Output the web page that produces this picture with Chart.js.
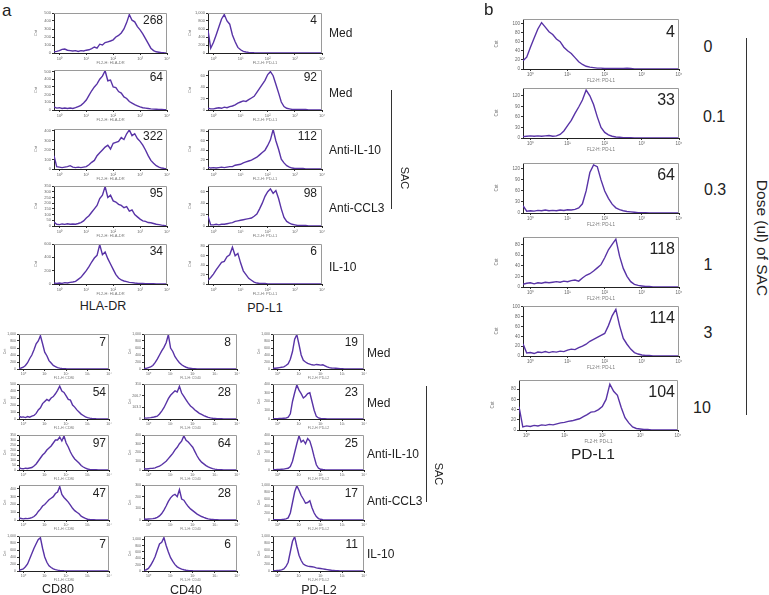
<!DOCTYPE html>
<html>
<head>
<meta charset="utf-8">
<script src="https://cdn.jsdelivr.net/npm/chart.js@4.4.1/dist/chart.umd.min.js"></script>
<style>
  html, body { margin: 0; padding: 0; background: #fff; }
  #fig { position: relative; width: 769px; height: 595px; overflow: hidden;
         font-family: "Liberation Sans", Arial, sans-serif; color: #222; }
  #fig canvas { position: absolute; }
  .t { position: absolute; white-space: nowrap; line-height: 1; }
  .vl { position: absolute; width: 1px; background: #333; }
</style>
</head>
<body>
<div id="fig"></div>
<script>
// channel positions in decades (log10 of fluorescence)
const channels = [-0.2, -0.1, 0, 0.1, 0.2, 0.3, 0.4, 0.5, 0.6, 0.7, 0.8, 0.9, 1, 1.1, 1.2, 1.3, 1.4, 1.5, 1.6, 1.7,
  1.8, 1.9, 2, 2.1, 2.2, 2.3, 2.4, 2.5, 2.6, 2.7, 2.8, 2.9, 3, 3.1, 3.2, 3.3, 3.4, 3.5, 3.6, 3.7, 3.8, 3.9, 4];
const decades = [0, 1, 2, 3, 4];
const decadeLabels = ['10⁰', '10¹', '10²', '10³', '10⁴'];

// panel a, top: conditions
const conditionsTop = ['Med', 'Med', 'Anti-IL-10', 'Anti-CCL3', 'IL-10'];
const hlaMfi = ['268', '64', '322', '95', '34'];
const pdl1Mfi = ['4', '92', '112', '98', '6'];

// HLA-DR histograms (counts)
const hla1 = [15,20,30,45,50,35,30,25,30,20, 30,25,35,40,55,75,60,110,100,130, 140,150,165,200,220,250,300,380,480,410, 390,330,290,240,180,120,60,30,15,10, 5,3,2];
const hla2 = [40,25,30,20,25,20,25,20,30,45, 60,90,130,190,250,300,340,400,440,510, 380,390,300,290,240,220,170,150,110,90, 70,55,40,30,25,20,15,12,10,8, 6,4,3];
const hla3 = [140,25,20,15,20,25,35,20,15,20, 15,20,25,45,70,90,140,170,200,230, 250,210,270,280,290,330,310,370,410,350, 370,320,290,250,200,140,90,60,35,20, 10,6,4];
const hla4 = [35,15,12,18,14,20,15,18,15,22, 30,45,70,90,120,150,180,240,270,345, 250,270,220,210,190,180,160,170,130,140, 100,80,60,45,40,30,28,22,15,12, 8,5,3];
const hla5 = [15,10,15,10,20,15,25,30,40,70, 100,150,200,260,330,390,430,590,440,480, 380,300,220,140,90,60,45,35,25,20, 15,12,10,8,6,5,4,3,2,2, 1,1,1];
const hlaMax = [500, 520, 420, 350, 600];
const hlaStep = [100, 100, 100, 50, 200];

// PD-L1 histograms, panel a (counts)
const pd1 = [570,120,260,450,650,850,960,800,720,450, 280,140,80,40,25,15,10,5,3,2, 2,1,1,1,1,0,0,0,0,0, 0,0,0,0,0,0,0,0,0,0, 0,0,0];
const pd2 = [3,2,2,3,4,3,5,4,6,7, 9,12,14,16,15,18,21,24,31,38, 45,52,62,67,60,45,30,14,6,3, 2,1,1,1,1,1,1,0,0,0, 0,0,0];
const pd3 = [4,2,3,2,3,4,3,4,5,5, 8,9,10,13,15,17,19,22,25,30, 35,40,50,62,84,60,42,21,13,7, 4,2,1,1,1,1,0,0,0,0, 0,0,0];
const pd4 = [17,2,2,3,2,3,3,4,5,6, 8,9,10,11,12,13,14,17,21,30, 40,52,60,65,57,62,48,30,15,8, 5,3,2,1,1,1,1,0,0,0, 0,0,0];
const pd5 = [8,14,21,30,38,46,48,58,62,78, 60,65,45,28,20,12,8,4,2,1, 1,1,0,0,0,0,0,0,0,0, 0,0,0,0,0,0,0,0,0,0, 0,0,0];
const pdMax = [1000, 70, 85, 70, 85];
const pdStep = [200, 20, 20, 20, 20];

// panel a, bottom
const cd80Mfi = ['7', '54', '97', '47', '7'];
const cd40Mfi = ['8', '28', '64', '28', '6'];
const pdl2Mfi = ['19', '23', '25', '17', '11'];

const c80_1 = [20,30,50,100,180,300,400,550,720,800, 950,720,480,380,240,170,100,70,40,25, 15,10,6,4,2,1,1,0,0,0, 0,0,0,0,0,0,0,0,0,0, 0,0,0];
const c80_2 = [40,25,30,20,35,25,40,50,80,130, 160,220,250,280,260,300,320,360,410,470, 400,380,330,280,270,200,170,130,100,70, 50,30,20,12,8,5,3,2,2,1, 1,1,1];
const c80_3 = [20,15,12,18,15,20,25,40,60,90, 120,150,170,200,220,240,270,300,300,330, 290,340,270,230,180,140,110,90,70,45, 30,18,10,6,4,3,2,1,1,1, 1,1,1];
const c80_4 = [25,20,15,20,18,22,30,45,70,110, 140,180,200,230,260,280,300,340,360,430, 330,290,260,230,190,150,120,100,80,50, 35,20,10,6,4,3,2,1,1,1, 1,1,1];
const c80_5 = [20,40,60,120,200,350,500,650,780,900, 950,650,400,250,150,100,60,40,25,15, 10,6,4,2,1,1,0,0,0,0, 0,0,0,0,0,0,0,0,0,0, 0,0,0];
const c80Max = [1000, 500, 350, 450, 1000];
const c80Step = [200, 100, 50, 100, 200];

const c40_1 = [10,20,40,60,100,180,280,400,520,620, 750,980,600,500,350,260,180,120,80,50, 30,20,12,8,5,3,2,1,0,0, 0,0,0,0,0,0,0,0,0,0, 0,0,0];
const c40_2 = [10,8,10,12,15,20,25,45,70,100, 140,180,210,230,250,240,290,230,200,170, 140,115,100,80,65,50,40,30,22,15, 10,7,5,3,2,2,1,1,1,1, 1,1,1];
const c40_3 = [15,12,15,18,20,25,35,45,60,80, 100,130,160,190,230,260,300,330,390,340, 320,290,260,210,160,120,90,70,50,35, 25,15,10,6,4,3,2,1,1,1, 1,1,1];
const c40_4 = [8,6,8,10,12,15,22,35,55,85, 120,160,190,210,220,200,260,180,170,140, 115,95,80,65,50,40,30,22,15,10, 7,5,3,2,1,1,1,1,1,1, 1,1,1];
const c40_5 = [20,40,80,180,300,450,650,850,900,1050, 800,600,420,300,200,130,90,60,40,25, 15,10,6,4,3,2,1,0,0,0, 0,0,0,0,0,0,0,0,0,0, 0,0,0];
const c40Max = [1000, 310, 400, 300, 1100];
const c40Step = [200, 100, 100, 100, 200];

const l2_1 = [20,20,30,40,50,60,100,150,280,500, 850,980,700,400,250,200,160,140,120,110, 130,120,110,120,90,60,40,30,25,20, 15,10,8,5,3,2,1,1,1,1, 1,1,1];
const l2_2 = [4,3,4,5,6,8,10,20,60,200, 300,390,330,290,240,260,290,300,200,100, 30,12,6,4,3,2,2,1,1,1, 1,1,1,1,0,0,0,0,0,0, 0,0,0];
const l2_3 = [5,4,5,6,8,10,15,20,40,100, 200,300,390,320,340,300,360,330,250,150, 60,20,8,5,3,2,2,1,1,1, 1,0,0,0,0,0,0,0,0,0, 0,0,0];
const l2_4 = [10,8,10,12,15,20,30,60,200,500, 800,980,850,700,600,480,500,550,350,200, 100,40,20,10,5,3,2,1,1,1, 1,0,0,0,0,0,0,0,0,0, 0,0,0];
const l2_5 = [10,10,15,20,30,60,130,250,550,850, 980,700,450,300,200,160,140,130,120,110, 90,80,70,60,50,40,30,20,15,10, 8,5,3,2,1,1,1,1,1,1, 1,1,1];
const l2Max = [1000, 400, 400, 1000, 1000];
const l2Step = [200, 100, 100, 200, 200];

// panel b: PD-L1 vs dose of SAC
const doses = ['0', '0.1', '0.3', '1', '3', '10'];
const doseMfi = ['4', '33', '64', '118', '114', '104'];
const b1 = [18,26,48,68,88,102,92,82,76,66, 60,48,40,34,25,16,10,6,4,3, 2,2,1,1,1,1,1,1,2,1, 0,0,0,0,0,0,0,0,0,0, 0,0,0];
const b2 = [4,5,6,5,6,5,6,7,5,6, 10,20,35,50,70,88,108,136,120,95, 60,30,16,9,5,3,2,1,1,1, 0,0,0,0,0,0,0,0,0,0, 0,0,0];
const b3 = [20,5,6,5,7,6,8,6,7,6, 8,7,9,8,10,14,25,60,110,131, 126,90,60,40,24,14,9,6,4,3, 2,1,1,1,0,0,0,0,0,0, 0,0,0];
const b4 = [5,7,8,6,8,7,9,8,9,10, 9,11,10,12,13,11,17,22,25,30, 36,42,55,70,80,90,58,35,20,10, 5,3,2,1,1,0,0,0,0,0, 0,0,0];
const b5 = [25,6,7,5,8,7,9,7,9,8, 10,9,12,14,13,17,20,24,30,34, 38,42,46,62,82,95,62,36,24,14, 7,4,2,1,1,0,0,0,0,0, 0,0,0];
const b6 = [46,6,8,7,9,8,10,9,11,10, 12,14,15,17,18,20,22,26,30,35, 36,40,46,60,90,76,68,44,24,14, 6,3,2,1,1,0,0,0,0,0, 0,0,0];
const bMax = [110, 142, 136, 94, 102, 98];
const bStep = [20, 30, 30, 20, 20, 20];

const fig = document.getElementById('fig');
const FONT = 'Liberation Sans, Arial, sans-serif';
const LINE = '#5833a6';

function label(text, x, y, size, align, rot) {
  const d = document.createElement('div');
  d.className = 't';
  d.textContent = text;
  d.style.left = x + 'px';
  d.style.top = y + 'px';
  d.style.fontSize = size + 'px';
  const tx = align === 'r' ? '-100%' : align === 'l' ? '0' : '-50%';
  d.style.transform = 'translate(' + tx + ',-50%)' + (rot ? ' rotate(' + rot + 'deg)' : '');
  fig.appendChild(d);
}

function vline(x, y0, y1) {
  const d = document.createElement('div');
  d.className = 'vl';
  d.style.left = x + 'px';
  d.style.top = y0 + 'px';
  d.style.height = (y1 - y0) + 'px';
  fig.appendChild(d);
}

// light frame on top and right like the cytometer plots
const frame = {
  id: 'frame',
  afterDraw(c) {
    const a = c.chartArea, ctx = c.ctx;
    ctx.save();
    ctx.strokeStyle = '#9a9a9a';
    ctx.lineWidth = 1;
    ctx.beginPath();
    ctx.moveTo(a.left, a.top + 0.5);
    ctx.lineTo(a.right - 0.5, a.top + 0.5);
    ctx.lineTo(a.right - 0.5, a.bottom);
    ctx.stroke();
    ctx.restore();
  }
};

function hist(values, max, step, box, title, s) {
  const [bx, by, bw, bh] = box;
  const padT = 3, padR = 5;
  const cv = document.createElement('canvas');
  cv.width = bw + s.padL + padR;
  cv.height = bh + padT + s.padB;
  cv.style.left = (bx - s.padL) + 'px';
  cv.style.top = (by - padT) + 'px';
  fig.appendChild(cv);
  const f = { size: s.font, family: FONT };
  new Chart(cv, {
    type: 'line',
    data: {
      datasets: [{
        data: channels.map((x, i) => ({ x: x, y: values[i] })),
        borderColor: LINE,
        borderWidth: 1.4,
        pointRadius: 0,
        tension: 0
      }]
    },
    options: {
      responsive: false,
      animation: false,
      devicePixelRatio: 1,
      layout: { padding: { left: 0, top: padT, right: padR, bottom: 0 } },
      plugins: { legend: { display: false }, tooltip: { enabled: false } },
      scales: {
        x: {
          type: 'linear', min: -0.2, max: 4,
          afterBuildTicks: sc => { sc.ticks = decades.map(v => ({ value: v })); },
          afterFit: sc => { sc.height = s.padB; sc.paddingLeft = 0; sc.paddingRight = 0; },
          ticks: { font: f, color: '#666', padding: 1, maxRotation: 0, autoSkip: false,
                   callback: v => decadeLabels[decades.indexOf(v)] },
          grid: { drawOnChartArea: false, tickLength: 2, color: '#333' },
          border: { color: '#222' },
          title: { display: true, text: title, font: f, color: '#777', padding: 0 }
        },
        y: {
          min: 0, max: max,
          afterFit: sc => { sc.width = s.padL; sc.paddingTop = 0; sc.paddingBottom = 0; },
          ticks: { stepSize: step, includeBounds: false, font: f, color: '#666', padding: 1, autoSkip: false },
          grid: { drawOnChartArea: false, tickLength: 2, color: '#333' },
          border: { color: '#222' },
          title: { display: true, text: 'Cnt', font: f, color: '#777', padding: 1 }
        }
      }
    },
    plugins: [frame]
  });
}

// ---- layout ----
const topStyle = { padL: 22, padB: 12, font: 4 };
const botStyle = { padL: 17, padB: 11, font: 3.5 };
const bStyle = { padL: 30, padB: 14, font: 4.5 };

const topTops = [13, 70, 129, 186, 244];
[hla1, hla2, hla3, hla4, hla5].forEach((v, i) =>
  hist(v, hlaMax[i], hlaStep[i], [54, topTops[i], 113, 40], 'FL2-H: HLA-DR', topStyle));
[pd1, pd2, pd3, pd4, pd5].forEach((v, i) =>
  hist(v, pdMax[i], pdStep[i], [208, topTops[i], 114, 40], 'FL2-H: PD-L1', topStyle));

const botTops = [334, 384, 435, 485, 536];
[c80_1, c80_2, c80_3, c80_4, c80_5].forEach((v, i) =>
  hist(v, c80Max[i], c80Step[i], [19, botTops[i], 90, 35], 'FL1-H: CD80', botStyle));
[c40_1, c40_2, c40_3, c40_4, c40_5].forEach((v, i) =>
  hist(v, c40Max[i], c40Step[i], [144, botTops[i], 93, 35], 'FL1-H: CD40', botStyle));
[l2_1, l2_2, l2_3, l2_4, l2_5].forEach((v, i) =>
  hist(v, l2Max[i], l2Step[i], [273, botTops[i], 91, 35], 'FL2-H: PD-L2', botStyle));

const bTops = [19, 88, 163, 237, 306, 380];
[b1, b2, b3, b4, b5, b6].forEach((v, i) =>
  hist(v, bMax[i], bStep[i], [i === 5 ? 519 : 523, bTops[i], i === 5 ? 159 : 156, 50], 'FL2-H: PD-L1', bStyle));

// ---- text ----
label('a', 2, 10, 17, 'l');
label('b', 484, 9, 17, 'l');

topTops.forEach((t, i) => {
  label(hlaMfi[i], 163, t + 7, 12, 'r');
  label(pdl1Mfi[i], 317, t + 7, 12, 'r');
});
[33, 93, 150, 208, 267].forEach((y, i) => label(conditionsTop[i], 329, y, 12, 'l'));
vline(391, 90, 209);
label('SAC', 404, 178, 11, 'c', 90);
label('HLA-DR', 103, 306, 12.5, 'c');
label('PD-L1', 265, 308, 12.5, 'c');

botTops.forEach((t, i) => {
  label(cd80Mfi[i], 106, t + 8, 12, 'r');
  label(cd40Mfi[i], 231, t + 8, 12, 'r');
  label(pdl2Mfi[i], 358, t + 8, 12, 'r');
});
[353, 403, 454, 501, 554].forEach((y, i) => label(conditionsTop[i], 367, y, 12, 'l'));
vline(426, 386, 502);
label('SAC', 438, 474, 11, 'c', 90);
label('CD80', 58, 589, 12.5, 'c');
label('CD40', 186, 590, 12.5, 'c');
label('PD-L2', 319, 590, 12.5, 'c');

[32, 100, 175, 249, 318, 392].forEach((y, i) => label(doseMfi[i], 675, y, 16, 'r'));
[[708, 47], [714, 117], [715, 190], [708, 265], [708, 333], [702, 408]].forEach((p, i) =>
  label(doses[i], p[0], p[1], 16, 'c'));
vline(746, 38, 415);
label('Dose (ul) of SAC', 762, 238, 15.5, 'c', 90);
label('PD-L1', 593, 454, 15.5, 'c');
</script>
</body>
</html>
